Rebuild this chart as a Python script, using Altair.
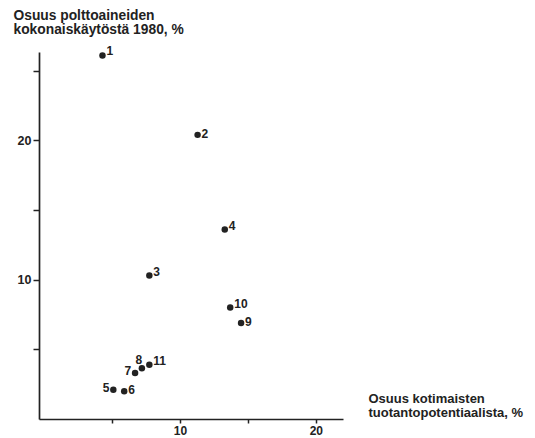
import altair as alt
import pandas as pd

# data
labels = ["1", "2", "3", "4", "5", "6", "7", "8", "9", "10", "11"]
x_vals = [4.3, 11.3, 7.75, 13.3, 5.1, 5.9, 6.7, 7.2, 14.5, 13.7, 7.75]
y_vals = [26.1, 20.4, 10.3, 13.6, 2.1, 2.0, 3.3, 3.65, 6.9, 8.0, 3.9]
label_side = ["ur", "r", "ur", "ur", "l", "r", "l", "u", "r", "ur", "ur"]

x_ticks = [5, 10, 15, 20]
y_ticks = [5, 10, 15, 20, 25]

y_title = ["Osuus polttoaineiden", "kokonaiskäytöstä 1980, %"]
x_title = ["Osuus kotimaisten", "tuotantopotentiaalista, %"]

df = pd.DataFrame({"lab": labels, "x": x_vals, "y": y_vals, "side": label_side})

FONT = "Liberation Sans"
INK = "#222222"

x_scale = alt.Scale(domain=[-0.37, 22.0], nice=False, zero=False)
y_scale = alt.Scale(domain=[0, 26.35], nice=False, zero=False)

x_axis = alt.Axis(
    values=x_ticks,
    labelExpr="datum.value % 10 == 0 ? datum.label : ''",
    grid=False,
    domainColor=INK, domainWidth=1.7,
    tickColor=INK, tickWidth=1.5, tickSize=4,
    labelFont=FONT, labelFontSize=12, labelFontWeight="bold", labelColor=INK,
    labelPadding=2,
    title=x_title,
    titleFont=FONT, titleFontSize=13, titleFontWeight="bold", titleColor=INK,
    titleAngle=0, titleAlign="left", titleBaseline="top",
    titleX=329, titleY=-27, titleLineHeight=14,
)
y_axis = alt.Axis(
    values=y_ticks,
    labelExpr="datum.value % 10 == 0 ? datum.label : ''",
    grid=False,
    domainColor=INK, domainWidth=1.7,
    tickColor=INK, tickWidth=1.5, tickSize=6,
    labelFont=FONT, labelFontSize=12.5, labelFontWeight="bold", labelColor=INK,
    labelPadding=2,
    title=y_title,
    titleFont=FONT, titleFontSize=13.8, titleFontWeight="bold", titleColor=INK,
    titleAngle=0, titleAlign="left", titleBaseline="top",
    titleX=-26, titleY=-44, titleLineHeight=14,
)

base = alt.Chart(df)

points = base.mark_circle(size=42, color=INK, opacity=1).encode(
    x=alt.X("x:Q", scale=x_scale, axis=x_axis),
    y=alt.Y("y:Q", scale=y_scale, axis=y_axis),
)

def text_layer(side, align, dx, dy):
    return base.transform_filter(alt.datum.side == side).mark_text(
        align=align, baseline="middle", dx=dx, dy=dy,
        font=FONT, fontSize=12, fontWeight="bold", color=INK,
    ).encode(
        x=alt.X("x:Q", scale=x_scale),
        y=alt.Y("y:Q", scale=y_scale),
        text="lab:N",
    )

layers = [
    points,
    text_layer("r", "left", 4, -1),
    text_layer("ur", "left", 4, -4),
    text_layer("l", "right", -4, -2),
    text_layer("u", "center", -3, -8),
]

chart = alt.layer(*layers).properties(
    width=304, height=367,
    padding={"left": 39, "top": 52, "right": 192, "bottom": 19},
    autosize=alt.AutoSizeParams(type="none"),
    background="white",
).configure_view(stroke=None)

chart.save("out.html", embed_options={"renderer": "svg", "actions": False})
